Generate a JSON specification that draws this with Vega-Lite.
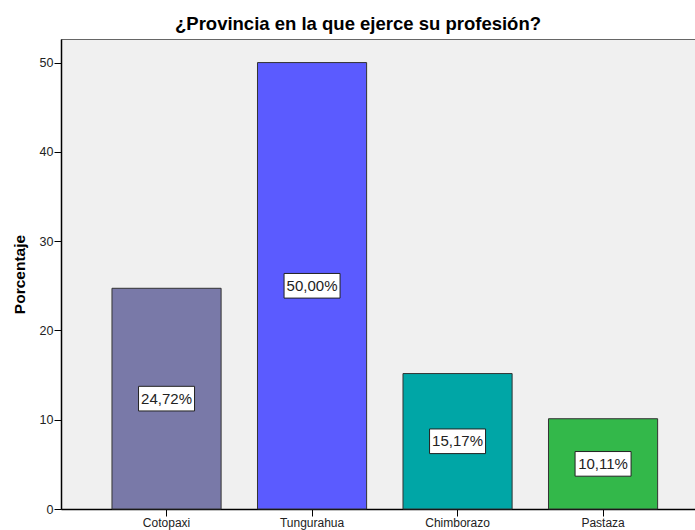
{
  "$schema": "https://vega.github.io/schema/vega-lite/v6.json",
  "autosize": {"type": "none"},
  "padding": {"left": 61, "top": 39, "right": 0, "bottom": 21},
  "width": 634,
  "height": 470,
  "background": "white",
  "title": {
    "text": "¿Provincia en la que ejerce su profesión?",
    "font": "Liberation Sans",
    "fontSize": 18.5,
    "fontWeight": "bold",
    "color": "#000000",
    "anchor": "middle",
    "dx": -20,
    "offset": 6
  },
  "data": {
    "values": [
      {"prov": "Cotopaxi", "pct": 24.72, "label": "24,72%"},
      {"prov": "Tungurahua", "pct": 50.0, "label": "50,00%"},
      {"prov": "Chimborazo", "pct": 15.17, "label": "15,17%"},
      {"prov": "Pastaza", "pct": 10.11, "label": "10,11%"}
    ]
  },
  "transform": [{"calculate": "datum.pct / 2", "as": "mid"}],
  "encoding": {
    "x": {
      "field": "prov",
      "type": "nominal",
      "sort": null,
      "scale": {"paddingInner": 0.25, "paddingOuter": 0.3036, "align": 0.577},
      "axis": {
        "title": null,
        "labelAngle": 0,
        "labelFont": "Liberation Sans",
        "labelFontSize": 12,
        "labelColor": "#222222",
        "labelPadding": 1,
        "tickSize": 7,
        "tickColor": "#000000",
        "domainColor": "#000000",
        "domainWidth": 1.5
      }
    }
  },
  "layer": [
    {
      "mark": {"type": "bar", "stroke": "#333333", "strokeWidth": 1},
      "encoding": {
        "y": {
          "field": "pct",
          "type": "quantitative",
          "scale": {"domain": [0, 52.64], "nice": false, "zero": true},
          "axis": {
            "title": "Porcentaje",
            "titleFont": "Liberation Sans",
            "titleFontSize": 15.5,
            "titleFontWeight": "bold",
            "titleColor": "#000000",
            "titlePadding": 12,
            "values": [0, 10, 20, 30, 40, 50],
            "grid": false,
            "labelFont": "Liberation Sans",
            "labelFontSize": 12.5,
            "labelColor": "#222222",
            "labelPadding": 1,
            "tickSize": 7,
            "tickColor": "#000000",
            "domainColor": "#000000",
            "domainWidth": 1.5
          }
        },
        "color": {
          "field": "prov",
          "type": "nominal",
          "scale": {
            "domain": ["Cotopaxi", "Tungurahua", "Chimborazo", "Pastaza"],
            "range": ["#7979a8", "#5b5bff", "#00a6a6", "#33b84a"]
          },
          "legend": null
        }
      }
    },
    {
      "mark": {
        "type": "point",
        "shape": "M-1,-0.44L1,-0.44L1,0.44L-1,0.44Z",
        "size": 3136,
        "filled": true,
        "fill": "#ffffff",
        "stroke": "#222222",
        "strokeWidth": 1,
        "opacity": 1
      },
      "encoding": {"y": {"field": "mid", "type": "quantitative"}}
    },
    {
      "mark": {"type": "text", "font": "Liberation Sans", "fontSize": 15, "color": "#222222"},
      "encoding": {
        "y": {"field": "mid", "type": "quantitative"},
        "text": {"field": "label"}
      }
    }
  ],
  "config": {"view": {"fill": "#f0f0f0", "stroke": "#666666"}}
}
